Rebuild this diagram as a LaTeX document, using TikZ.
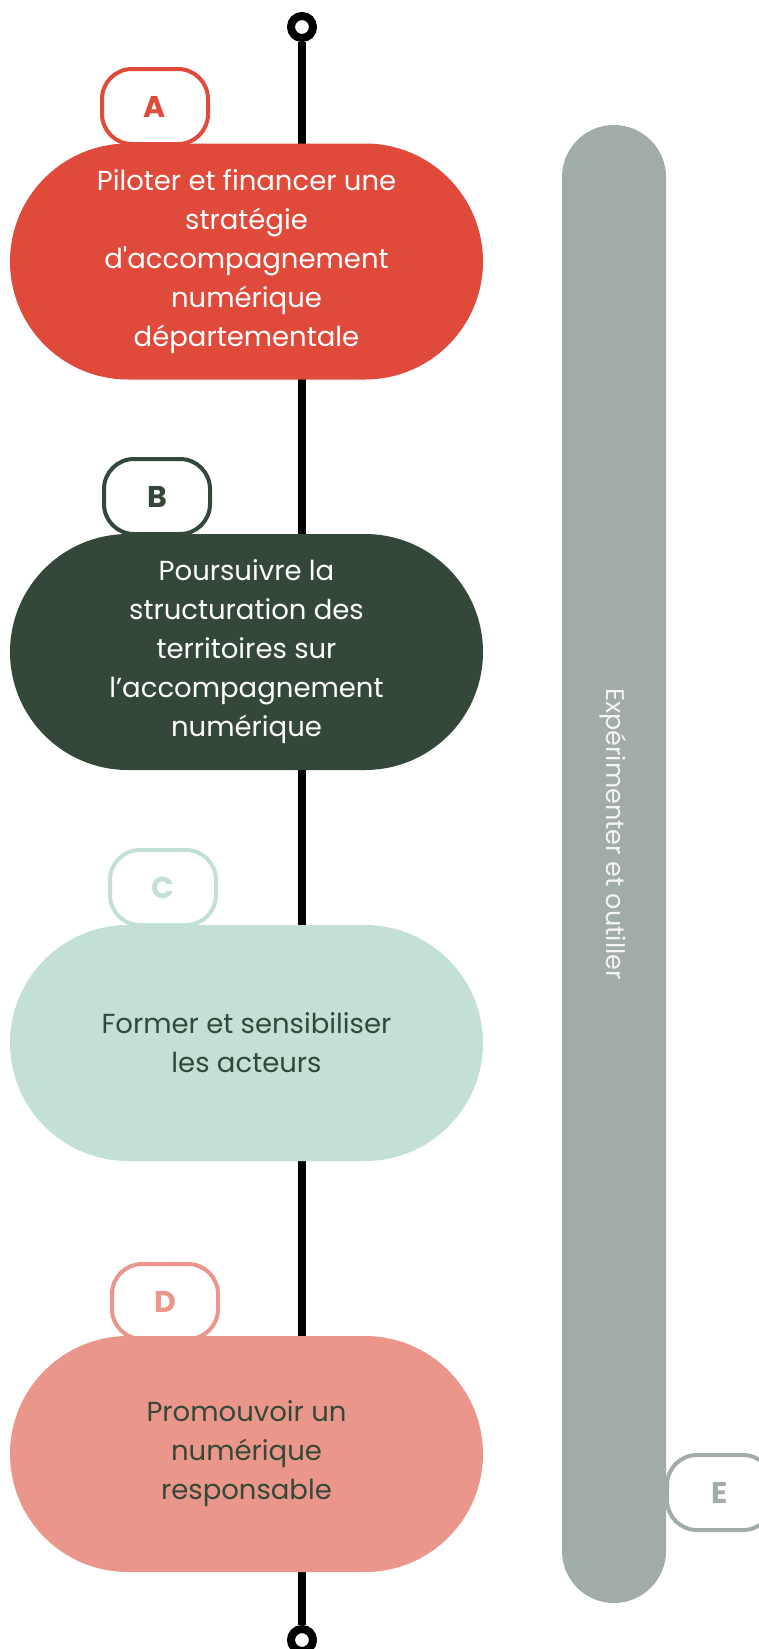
\documentclass[tikz,border=0pt]{standalone}
\usepackage{fontspec}
\newfontfamily\pop{Poppins}
\usetikzlibrary{shapes.misc}
\definecolor{cred}{HTML}{E04A3B}
\definecolor{cgreen}{HTML}{34483A}
\definecolor{cmint}{HTML}{C3E0D6}
\definecolor{csalmon}{HTML}{EA968B}
\definecolor{cgray}{HTML}{A2ACA6}
\begin{document}
\begin{tikzpicture}[x=1pt,y=-1pt,
  big/.style={rounded rectangle, minimum width=473pt, minimum height=236pt, inner sep=0pt, align=center, font=\pop\fontsize{27.5}{39}\selectfont},
  tag/.style={draw, line width=4pt, fill=white, rounded corners=30pt, minimum width=106pt, minimum height=75pt, inner sep=0pt, font=\pop\bfseries\fontsize{30}{30}\selectfont},
  ring/.style={circle, draw=black, line width=8pt, fill=white, minimum size=22pt, inner sep=0pt},
  axis/.style={line width=7.5pt, black},
  bar/.style={fill=cgray, rounded corners=52pt, minimum width=104pt, minimum height=1478pt, inner sep=0pt},
]
\useasboundingbox (0,0) rectangle (758,1649);
\node[ring] (top) at (302,27) {};
\node[ring] (bot) at (302,1640) {};
\draw[axis] (top.south) -- (bot.north);

\node[bar] (E) at (614,864) {};
\node[rotate=-90, text=white!88!cgray, font=\pop\fontsize{25.5}{25.5}\selectfont] (Etext) at (613,834) {Expérimenter et outiller};
\node[tag, draw=cgray, text=cgray] (Etag) at (720,1492.5) {E};

\node[tag, draw=cred, text=cred] (Atag) at (155,106.5) {A};
\node[big, fill=cred, text=white] (A) at (246.5,261.5) {Piloter et financer une\\stratégie\\d'accompagnement\\numérique\\départementale};

\node[tag, draw=cgreen, text=cgreen] (Btag) at (157,496.5) {B};
\node[big, fill=cgreen, text=white] (B) at (246.5,652) {Poursuivre la\\structuration des\\territoires sur\\l’accompagnement\\numérique};

\node[tag, draw=cmint, text=cmint] (Ctag) at (163,887.5) {C};
\node[big, fill=cmint, text=cgreen] (C) at (246.5,1043) {Former et sensibiliser\\les acteurs};

\node[tag, draw=csalmon, text=csalmon] (Dtag) at (165,1301.5) {D};
\node[big, fill=csalmon, text=cgreen] (D) at (246.5,1454) {Promouvoir un\\numérique\\responsable};
\end{tikzpicture}
\end{document}
